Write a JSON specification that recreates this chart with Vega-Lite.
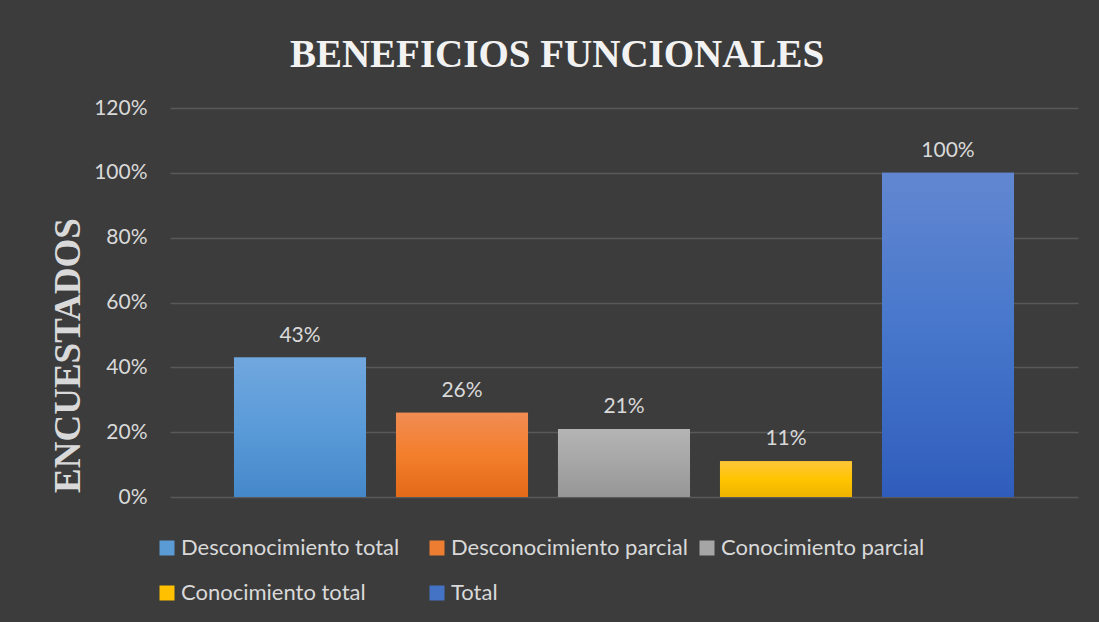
{
  "$schema": "https://vega.github.io/schema/vega-lite/v6.json",
  "width": 908,
  "height": 389,
  "autosize": "none",
  "padding": {"left": 170, "top": 108, "right": 21, "bottom": 125},
  "background": "#3c3c3c",
  "config": {"view": {"stroke": null}},
  "title": {
    "text": "BENEFICIOS FUNCIONALES",
    "font": "Liberation Serif",
    "fontWeight": "bold",
    "fontSize": 39,
    "color": "#f2f2f2",
    "anchor": "middle",
    "dx": -67,
    "offset": 22
  },
  "data": {
    "values": [
      {"serie": "Desconocimiento total", "valor": 0.43},
      {"serie": "Desconocimiento parcial", "valor": 0.26},
      {"serie": "Conocimiento parcial", "valor": 0.21},
      {"serie": "Conocimiento total", "valor": 0.11},
      {"serie": "Total", "valor": 1.0}
    ]
  },
  "encoding": {
    "x": {
      "field": "serie",
      "type": "nominal",
      "sort": null,
      "scale": {"paddingInner": 0.185, "paddingOuter": 0.395},
      "axis": null
    },
    "y": {
      "field": "valor",
      "type": "quantitative",
      "scale": {"domain": [0, 1.2]},
      "axis": {
        "title": "ENCUESTADOS",
        "titleFont": "Liberation Serif",
        "titleFontWeight": "bold",
        "titleFontSize": 37,
        "titleColor": "#d9d9d9",
        "titleAngle": 270,
        "titleX": -102,
        "titleY": 247,
        "titleAlign": "center",
        "titleBaseline": "middle",
        "format": ".0%",
        "values": [0, 0.2, 0.4, 0.6, 0.8, 1.0, 1.2],
        "labelOverlap": false,
        "labelFont": "Lato",
        "labelFontSize": 21,
        "labelColor": "#d9d9d9",
        "labelPadding": 23,
        "ticks": false,
        "domain": false,
        "grid": true,
        "gridColor": "#595959",
        "gridWidth": 1.5
      }
    }
  },
  "layer": [
    {
      "mark": {"type": "bar"},
      "encoding": {
        "color": {
          "field": "serie",
          "type": "nominal",
          "sort": null,
          "scale": {
            "domain": ["Desconocimiento total", "Desconocimiento parcial", "Conocimiento parcial", "Conocimiento total", "Total"],
            "range": ["#5b9bd5", "#ed7d31", "#a5a5a5", "#ffc000", "#4472c4"]
          },
          "legend": {
            "title": null,
            "orient": "none",
            "legendX": -14,
            "legendY": 429,
            "direction": "horizontal",
            "columns": 3,
            "gridAlign": "all",
            "columnPadding": 8,
            "rowPadding": 23,
            "symbolType": "square",
            "symbolSize": 225,
            "symbolStrokeWidth": 0,
            "labelFont": "Lato",
            "labelFontSize": 22,
            "labelColor": "#d9d9d9",
            "labelOffset": 3,
            "labelLimit": 400
          }
        }
      }
    },
    {
      "transform": [{"filter": "datum.serie == 'Desconocimiento total'"}],
      "mark": {"type": "bar", "fill": {"gradient": "linear", "x1": 0, "y1": 0, "x2": 0, "y2": 1, "stops": [{"offset": 0, "color": "#71a7de"}, {"offset": 0.5, "color": "#5a9bd9"}, {"offset": 1, "color": "#4588c9"}]}}
    },
    {
      "transform": [{"filter": "datum.serie == 'Desconocimiento parcial'"}],
      "mark": {"type": "bar", "fill": {"gradient": "linear", "x1": 0, "y1": 0, "x2": 0, "y2": 1, "stops": [{"offset": 0, "color": "#f18c53"}, {"offset": 0.5, "color": "#f37e2c"}, {"offset": 1, "color": "#e36a17"}]}}
    },
    {
      "transform": [{"filter": "datum.serie == 'Conocimiento parcial'"}],
      "mark": {"type": "bar", "fill": {"gradient": "linear", "x1": 0, "y1": 0, "x2": 0, "y2": 1, "stops": [{"offset": 0, "color": "#b4b4b4"}, {"offset": 0.5, "color": "#a6a6a6"}, {"offset": 1, "color": "#969696"}]}}
    },
    {
      "transform": [{"filter": "datum.serie == 'Conocimiento total'"}],
      "mark": {"type": "bar", "fill": {"gradient": "linear", "x1": 0, "y1": 0, "x2": 0, "y2": 1, "stops": [{"offset": 0, "color": "#ffc63a"}, {"offset": 0.5, "color": "#ffc400"}, {"offset": 1, "color": "#eeb400"}]}}
    },
    {
      "transform": [{"filter": "datum.serie == 'Total'"}],
      "mark": {"type": "bar", "fill": {"gradient": "linear", "x1": 0, "y1": 0, "x2": 0, "y2": 1, "stops": [{"offset": 0, "color": "#6287d1"}, {"offset": 0.5, "color": "#4676cb"}, {"offset": 1, "color": "#305dbc"}]}}
    },
    {
      "mark": {"type": "text", "baseline": "bottom", "dy": -12, "font": "Lato", "fontSize": 21, "color": "#d9d9d9"},
      "encoding": {
        "text": {"field": "valor", "type": "quantitative", "format": ".0%"}
      }
    }
  ]
}
